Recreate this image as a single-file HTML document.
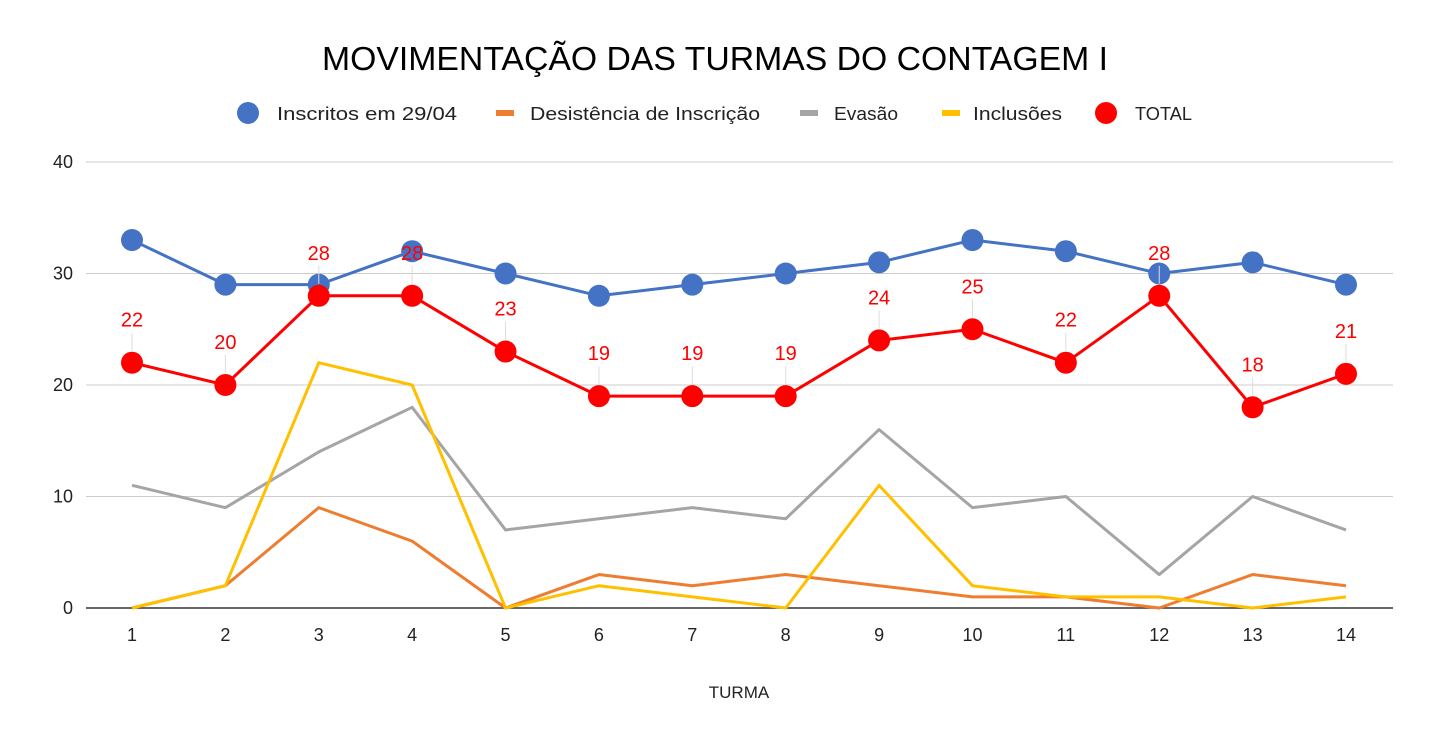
<!DOCTYPE html>
<html><head><meta charset="utf-8"><style>
body{margin:0;background:#fff;}
svg{display:block;font-family:"Liberation Sans",Arial,sans-serif;}
</style></head><body>
<svg id="chart" width="1429" height="742">
<text x="322" y="70" font-size="33" fill="#000" textLength="786" lengthAdjust="spacingAndGlyphs">MOVIMENTAÇÃO DAS TURMAS DO CONTAGEM I</text>
<g>
<g><circle cx="248" cy="113" r="11" fill="#4472c4"/><text x="277" y="120" font-size="18" fill="#222" textLength="180" lengthAdjust="spacingAndGlyphs">Inscritos em 29/04</text></g>
<g><rect x="496" y="110" width="18" height="6" fill="#ed7d31"/><text x="530" y="120" font-size="18" fill="#222" textLength="230" lengthAdjust="spacingAndGlyphs">Desistência de Inscrição</text></g>
<g><rect x="800" y="110" width="18" height="6" fill="#a5a5a5"/><text x="834" y="120" font-size="18" fill="#222" textLength="64" lengthAdjust="spacingAndGlyphs">Evasão</text></g>
<g><rect x="942" y="110" width="18" height="6" fill="#ffc000"/><text x="973" y="120" font-size="18" fill="#222" textLength="89" lengthAdjust="spacingAndGlyphs">Inclusões</text></g>
<g><circle cx="1106" cy="113" r="11" fill="#ff0000"/><text x="1135" y="120" font-size="18" fill="#222" textLength="57" lengthAdjust="spacingAndGlyphs">TOTAL</text></g>
</g>
<g id="grid"></g><g id="series"></g>
<text x="739" y="698" text-anchor="middle" font-size="17" fill="#222">TURMA</text>
</svg>
<script>
const categories=[1,2,3,4,5,6,7,8,9,10,11,12,13,14];
const inscritos=[33,29,29,32,30,28,29,30,31,33,32,30,31,29];
const desistencia=[0,2,9,6,0,3,2,3,2,1,1,0,3,2];
const evasao=[11,9,14,18,7,8,9,8,16,9,10,3,10,7];
const inclusoes=[0,2,22,20,0,2,1,0,11,2,1,1,0,1];
const total=[22,20,28,28,23,19,19,19,24,25,22,28,18,21];
const yTicks=[0,10,20,30,40];
const NS="http://www.w3.org/2000/svg";
const x=i=>132+i*(1346-132)/13;
const y=v=>608-v*(608-162)/40;
function mk(t,a,p){const e=document.createElementNS(NS,t);for(const k in a)e.setAttribute(k,a[k]);p.appendChild(e);return e;}
const grid=document.getElementById('grid'),ser=document.getElementById('series');
yTicks.forEach(v=>{
 const l=mk('line',{x1:86,x2:1393,y1:y(v),y2:y(v),stroke:v===0?'#333':'#ccc','stroke-width':v===0?1.5:1},grid);
 
 
 const t=mk('text',{x:73,y:y(v)+6,'text-anchor':'end','font-size':18,fill:'#222'},grid);
 t.textContent=v;
 
 
});
categories.forEach((c,i)=>{
 const t=mk('text',{x:x(i),y:641,'text-anchor':'middle','font-size':18,fill:'#222'},grid);
 t.textContent=c;
 
 
});
function line(arr,color,w,name){
 const p=mk('polyline',{points:arr.map((v,i)=>x(i)+','+y(v)).join(' '),fill:'none',stroke:color,'stroke-width':w,'stroke-linejoin':'round'},ser);
 
 
}
line(evasao,'#a5a5a5',3,'evasao-line');
line(desistencia,'#ed7d31',3,'desistencia-line');
line(inclusoes,'#ffc000',3,'inclusoes-line');
line(inscritos,'#4472c4',3,'inscritos-line');
inscritos.forEach((v,i)=>{
 const c=mk('circle',{cx:x(i),cy:y(v),r:11,fill:'#4472c4'},ser);
 
 
});
line(total,'#ff0000',3,'total-line');
total.forEach((v,i)=>{
 const ld=mk('line',{x1:x(i),x2:x(i),y1:y(v)-30,y2:y(v)-12,stroke:'#ddd','stroke-width':1},ser);
 
 
 const c=mk('circle',{cx:x(i),cy:y(v),r:11,fill:'#ff0000'},ser);
 
 
 const t=mk('text',{x:x(i),y:y(v)-36,'text-anchor':'middle','font-size':20,fill:'#ff0000'},ser);
 t.textContent=v;
 
 
});
</script>
</body></html>
